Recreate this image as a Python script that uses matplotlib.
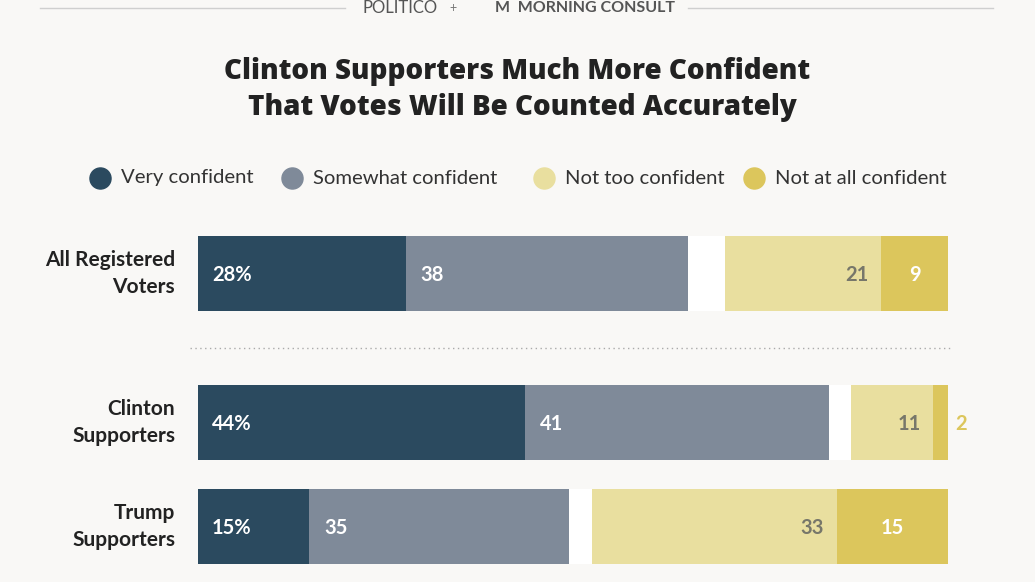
import matplotlib
matplotlib.use("Agg")
import matplotlib.pyplot as plt

plt.rcParams['font.family'] = ['Lato', 'DejaVu Sans']

groups = ["All Registered\nVoters", "Clinton\nSupporters", "Trump\nSupporters"]
very = [28, 44, 15]
somewhat = [38, 41, 35]
not_too = [21, 11, 33]
not_at_all = [9, 2, 15]
series_names = ["Very confident", "Somewhat confident", "Not too confident", "Not at all confident"]
colors = ["#2b4a5f", "#7f8a99", "#e9df9f", "#dcc65c"]
total = 101

bg = "#f9f8f6"
W, H = 1035, 582
fig = plt.figure(figsize=(W/100, H/100), dpi=100, facecolor=bg)

top = fig.add_axes([0, 0, 1, 1]); top.set_xlim(0, W); top.set_ylim(H, 0); top.axis('off')
top.plot([40, 345], [8, 8], color="#cfcfcf", lw=1)
top.plot([688, 993], [8, 8], color="#cfcfcf", lw=1)
top.text(400, 8, "POLITICO", ha='center', va='center', fontsize=12, color="#555555")
top.text(453, 8, "+", ha='center', va='center', fontsize=9, color="#777777")
top.text(585, 8, "M  MORNING CONSULT", ha='center', va='center', fontsize=11.5, color="#555555", fontweight='bold')
tkw = dict(ha='center', va='center', fontsize=20, fontweight='heavy', color="#222222",
           family=['Open Sans', 'DejaVu Sans'])
top.text(517, 71, "Clinton Supporters Much More Confident", **tkw)
top.text(522, 108, "That Votes Will Be Counted Accurately", **tkw)
leg_x = [100, 292, 544, 754]
for x, n, c in zip(leg_x, series_names, colors):
    top.scatter([x], [178], s=230, color=c, zorder=3)
    top.text(x + 21, 178, n, va='center', ha='left', fontsize=14.6, color="#333333")
top.plot([190, 952], [348, 348], color="#aaaaaa", lw=1, ls=(0, (1, 2.5)))

ax = fig.add_axes([198/W, 0, 750/W, (H-200)/H])
ax.set_xlim(0, total); ax.set_ylim(H, 200); ax.axis('off')
ax.patch.set_alpha(0)
ys = [273.5, 422.5, 526.5]
h = 75
for i, y in enumerate(ys):
    ax.barh(y, total, height=h, left=0, color="white")
    ax.barh(y, very[i], height=h, left=0, color=colors[0])
    ax.barh(y, somewhat[i], height=h, left=very[i], color=colors[1])
    r2 = total - not_at_all[i]
    r1 = r2 - not_too[i]
    ax.barh(y, not_too[i], height=h, left=r1, color=colors[2])
    ax.barh(y, not_at_all[i], height=h, left=r2, color=colors[3])
    kw = dict(va='center', fontsize=14.5, fontweight='bold')
    yt = y + 1.5
    ax.text(1.9, yt, f"{very[i]}%", color='white', ha='left', **kw)
    ax.text(very[i] + 2, yt, f"{somewhat[i]}", color='white', ha='left', **kw)
    ax.text(r2 - 1.7, yt, f"{not_too[i]}", color='#77776a', ha='right', **kw)
    if not_at_all[i] >= 5:
        ax.text(r2 + not_at_all[i]/2, yt, f"{not_at_all[i]}", color='white', ha='center', **kw)
    else:
        ax.text(total + 1, yt, f"{not_at_all[i]}", color=colors[3], ha='left', **kw)
    top.text(175, y, groups[i], ha='right', va='center', fontsize=15, fontweight='bold', color="#222222", linespacing=1.45)

fig.savefig("out.png", dpi=100, facecolor=bg)
